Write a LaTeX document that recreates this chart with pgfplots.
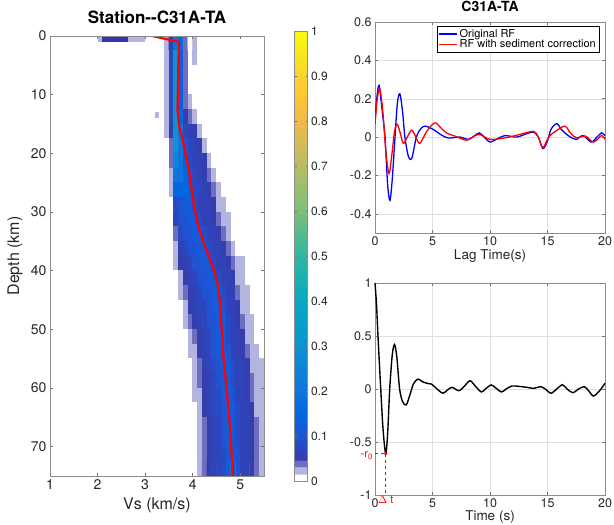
\documentclass[border=0pt]{standalone}
\usepackage{fontspec}
\setmainfont{TeX Gyre Heros}
\usepackage{pgfplots}
\pgfplotsset{compat=1.18}

\definecolor{lavL}{RGB}{180,180,224}
\definecolor{lavN}{RGB}{50,55,175}

\pgfplotsset{
  mlab/.style={
    scale only axis,
    axis line style={black!45, line width=0.5pt},
    tick style={black!55, line width=0.5pt},
    tick align=inside,
    major tick length=3pt,
    ticklabel style={font=\fontsize{12.5}{14}\selectfont, text=black!85},
    /pgf/number format/assume math mode=true,
    label style={font=\fontsize{13.5}{16}\selectfont, text=black!85},
  },
}

\begin{document}
\begin{tikzpicture}
\useasboundingbox (0,0) rectangle (614pt,525pt);

% ---- left: Vs density with depth
\begin{axis}[mlab, axis on top,
  at={(50pt,49pt)}, anchor=south west,
  width=214pt, height=440pt,
  xmin=1, xmax=5.5, ymin=0, ymax=75,
  y dir=reverse,
  xtick={1,2,3,4,5}, ytick={0,10,20,30,40,50,60,70},
  ticklabel style={font=\fontsize{14}{16}\selectfont},
  xlabel={Vs (km/s)}, ylabel={Depth (km)},
  label style={font=\fontsize{16}{18}\selectfont},
  xlabel style={at={([yshift=-29pt]axis description cs:0.5,0)}, anchor=center},
  ylabel style={at={([xshift=-35pt]axis description cs:0,0.5)}, anchor=center},
  title={\bfseries Station-{}-C31A-TA},
  title style={at={([yshift=13pt]axis description cs:0.5,1)}, anchor=center, font=\fontsize{17}{19}\selectfont},
  colormap={mparula}{
    rgb255(0pt)=(255,255,255); rgb255(15pt)=(255,255,255);
    rgb255(16pt)=(180,180,224); rgb255(31pt)=(180,180,224);
    rgb255(32pt)=(110,110,192); rgb255(46pt)=(110,110,192);
    rgb255(47pt)=(53,61,173); rgb255(100pt)=(32,83,212);
    rgb255(150pt)=(2,104,225); rgb255(200pt)=(13,117,220);
    rgb255(300pt)=(12,147,210); rgb255(400pt)=(7,169,194);
    rgb255(500pt)=(46,183,164); rgb255(600pt)=(124,191,123);
    rgb255(700pt)=(183,189,100); rgb255(800pt)=(241,185,74);
    rgb255(850pt)=(255,195,55); rgb255(900pt)=(250,211,42);
    rgb255(1000pt)=(249,251,14)},
  point meta min=0, point meta max=1,
  colorbar,
  colorbar style={
    scale only axis, width=13pt, height=450pt,
    at={(parent axis.east)}, anchor=west, xshift=22pt,
    ytick={0,0.1,0.2,0.3,0.4,0.5,0.6,0.7,0.8,0.9,1},
    yticklabel style={font=\fontsize{12}{14}\selectfont, /pgf/number format/fixed},
    /pgf/number format/assume math mode=true,
    axis line style={black!45}, tick style={black!55},
    major tick length=2pt, tick align=inside},
]
% density grid: Vs bins 3.2..5.5 (0.1 wide, 23 per row), depth rows 2.5 km
\addplot[matrix plot*, mesh/cols=23, point meta=explicit]
  table[row sep=\\, header=false,
        x expr={3.25+0.1*mod(\coordindex,23)},
        y expr={1.25+2.5*floor(\coordindex/23)}, meta index=0] {
0\\0\\0.02\\0.06\\0.2\\0.15\\0.04\\0\\0.02\\0\\0\\0\\0\\0\\0\\0\\0\\0\\0\\0\\0\\0\\0\\
0\\0\\0.02\\0.07\\0.3\\0.12\\0.04\\0\\0.02\\0\\0\\0\\0\\0\\0\\0\\0\\0\\0\\0\\0\\0\\0\\
0\\0\\0.02\\0.07\\0.3\\0.12\\0.04\\0\\0\\0\\0\\0\\0\\0\\0\\0\\0\\0\\0\\0\\0\\0\\0\\
0\\0\\0.02\\0.07\\0.3\\0.12\\0.04\\0\\0\\0\\0\\0\\0\\0\\0\\0\\0\\0\\0\\0\\0\\0\\0\\
0\\0\\0.02\\0.07\\0.3\\0.12\\0.04\\0.02\\0\\0\\0\\0\\0\\0\\0\\0\\0\\0\\0\\0\\0\\0\\0\\
0\\0\\0.02\\0.07\\0.3\\0.15\\0.05\\0.04\\0.02\\0\\0\\0\\0\\0\\0\\0\\0\\0\\0\\0\\0\\0\\0\\
0\\0\\0.02\\0.05\\0.3\\0.2\\0.07\\0.06\\0.05\\0.02\\0\\0\\0\\0\\0\\0\\0\\0\\0\\0\\0\\0\\0\\
0\\0\\0\\0.04\\0.3\\0.2\\0.1\\0.07\\0.06\\0.05\\0.02\\0\\0\\0\\0\\0\\0\\0\\0\\0\\0\\0\\0\\
0\\0\\0\\0.04\\0.25\\0.2\\0.12\\0.08\\0.06\\0.06\\0.05\\0.02\\0\\0\\0\\0\\0\\0\\0\\0\\0\\0\\0\\
0\\0\\0\\0.03\\0.2\\0.2\\0.15\\0.1\\0.07\\0.06\\0.05\\0.04\\0.02\\0\\0\\0\\0\\0\\0\\0\\0\\0\\0\\
0\\0\\0\\0.02\\0.15\\0.15\\0.15\\0.12\\0.08\\0.07\\0.06\\0.05\\0.04\\0.02\\0\\0\\0\\0\\0\\0\\0\\0\\0\\
0\\0\\0\\0\\0.08\\0.1\\0.12\\0.12\\0.08\\0.06\\0.06\\0.06\\0.05\\0.03\\0.02\\0\\0\\0\\0\\0\\0\\0\\0\\
0\\0\\0\\0\\0.06\\0.1\\0.1\\0.12\\0.12\\0.08\\0.06\\0.06\\0.05\\0.04\\0.02\\0.02\\0\\0\\0\\0\\0\\0\\0\\
0\\0\\0\\0\\0.04\\0.08\\0.1\\0.1\\0.12\\0.12\\0.08\\0.06\\0.06\\0.05\\0.04\\0.02\\0\\0\\0\\0\\0\\0\\0\\
0\\0\\0\\0\\0.03\\0.06\\0.07\\0.1\\0.1\\0.12\\0.12\\0.08\\0.06\\0.06\\0.05\\0.04\\0.02\\0\\0\\0\\0\\0\\0\\
0\\0\\0\\0\\0.02\\0.05\\0.06\\0.07\\0.1\\0.1\\0.12\\0.12\\0.08\\0.06\\0.06\\0.05\\0.04\\0.03\\0.02\\0\\0\\0\\0\\
0\\0\\0\\0\\0\\0.03\\0.05\\0.06\\0.07\\0.1\\0.1\\0.12\\0.12\\0.08\\0.06\\0.06\\0.05\\0.03\\0.02\\0\\0\\0\\0\\
0\\0\\0\\0\\0\\0.02\\0.04\\0.05\\0.06\\0.07\\0.1\\0.1\\0.12\\0.12\\0.08\\0.06\\0.06\\0.04\\0.02\\0.02\\0\\0\\0\\
0\\0\\0\\0\\0\\0\\0.03\\0.05\\0.06\\0.07\\0.07\\0.1\\0.12\\0.12\\0.1\\0.06\\0.06\\0.05\\0.03\\0.02\\0\\0\\0\\
0\\0\\0\\0\\0\\0\\0.02\\0.04\\0.05\\0.06\\0.07\\0.1\\0.1\\0.12\\0.12\\0.08\\0.06\\0.05\\0.04\\0.02\\0.02\\0\\0\\
0\\0\\0\\0\\0\\0\\0\\0.02\\0.04\\0.05\\0.06\\0.07\\0.1\\0.12\\0.12\\0.08\\0.06\\0.06\\0.05\\0.03\\0.02\\0\\0\\
0\\0\\0\\0\\0\\0\\0\\0.02\\0.03\\0.05\\0.06\\0.07\\0.1\\0.12\\0.12\\0.1\\0.06\\0.06\\0.05\\0.04\\0.03\\0.02\\0\\
0\\0\\0\\0\\0\\0\\0\\0\\0.02\\0.04\\0.06\\0.07\\0.08\\0.1\\0.12\\0.12\\0.08\\0.06\\0.06\\0.05\\0.03\\0.02\\0.02\\
0\\0\\0\\0\\0\\0\\0\\0\\0.02\\0.04\\0.05\\0.06\\0.07\\0.1\\0.12\\0.12\\0.08\\0.06\\0.06\\0.05\\0.04\\0.02\\0.02\\
0\\0\\0\\0\\0\\0\\0\\0\\0.02\\0.03\\0.05\\0.06\\0.07\\0.08\\0.12\\0.12\\0.1\\0.06\\0.06\\0.05\\0.04\\0.03\\0.02\\
0\\0\\0\\0\\0\\0\\0\\0\\0\\0.02\\0.05\\0.06\\0.07\\0.08\\0.1\\0.12\\0.12\\0.08\\0.06\\0.06\\0.05\\0.03\\0.02\\
0\\0\\0\\0\\0\\0\\0\\0\\0\\0.02\\0.04\\0.05\\0.06\\0.07\\0.1\\0.12\\0.12\\0.08\\0.06\\0.06\\0.05\\0.04\\0.02\\
0\\0\\0\\0\\0\\0\\0\\0\\0\\0.02\\0.04\\0.05\\0.06\\0.07\\0.1\\0.12\\0.12\\0.08\\0.06\\0.06\\0.05\\0.04\\0.02\\
0\\0\\0\\0\\0\\0\\0\\0\\0\\0.02\\0.04\\0.05\\0.06\\0.07\\0.08\\0.12\\0.12\\0.1\\0.06\\0.06\\0.05\\0.04\\0.02\\
0\\0\\0\\0\\0\\0\\0\\0\\0\\0.02\\0.04\\0.05\\0.06\\0.07\\0.08\\0.12\\0.12\\0.1\\0.06\\0.06\\0.05\\0.04\\0.02\\
};
% stray cells in the top layer and at 13 km
\addplot[draw=none, fill=lavL] coordinates {(2.0,0) (2.1,0) (2.1,1) (2.0,1)} -- cycle;
\addplot[draw=none, fill=lavN] coordinates {(2.1,0) (2.65,0) (2.65,1) (2.1,1)} -- cycle;
\addplot[draw=none, fill=lavL] coordinates {(2.65,0) (3.0,0) (3.0,1) (2.65,1)} -- cycle;
\addplot[draw=none, fill=lavL] coordinates {(3.2,13) (3.3,13) (3.3,14) (3.2,14)} -- cycle;
% mean model
\addplot[red, line width=2.2pt] coordinates {
  (3.15,0) (3.71,1) (3.70,5) (3.68,12.6) (3.72,15.5) (3.79,17.7)
  (3.92,22.8) (4.03,29) (4.12,32.5) (4.22,35) (4.34,37.6) (4.45,40)
  (4.53,42.5) (4.57,45) (4.61,50) (4.65,55) (4.72,60.8) (4.77,65)
  (4.81,70) (4.85,75)};
\end{axis}

% ---- upper right: receiver functions
\begin{axis}[mlab,
  at={(375pt,292pt)}, anchor=south west,
  width=230pt, height=211pt,
  xmin=0, xmax=20, ymin=-0.5, ymax=0.6,
  xtick={0,5,10,15,20}, ytick={-0.4,-0.2,0,0.2,0.4,0.6},
  grid=major, grid style={black!12},
  xlabel={Lag Time(s)},
  xlabel style={at={([yshift=-23pt]axis description cs:0.5,0)}, anchor=center},
  title={\bfseries C31A-TA},
  title style={at={([yshift=10pt]axis description cs:0.5,1)}, anchor=center, font=\fontsize{14}{16}\selectfont},
  legend style={at={(axis description cs:1,1)}, anchor=north east, xshift=-6pt, yshift=-4pt,
    font=\fontsize{11}{13}\selectfont, draw=black, line width=0.5pt,
    inner xsep=1pt, inner ysep=1pt, row sep=-3pt},
  legend cell align=left,
  legend image code/.code={\draw[#1, line width=1.3pt] (0pt,0pt) -- (18pt,0pt);},
]
\addplot[blue, line width=1.3pt, smooth] coordinates {
  (0,0.07) (0.15,0.2) (0.35,0.27) (0.6,0.15) (0.87,0) (1.1,-0.25) (1.3,-0.33)
  (1.5,-0.22) (1.74,0) (1.95,0.18) (2.17,0.225) (2.4,0.13) (2.6,0) (2.9,-0.1)
  (3.2,-0.11) (3.6,0) (4.0,0.045) (4.35,0.057) (4.8,0.048) (5.2,0.035) (5.8,0.01)
  (6.4,-0.005) (7.4,0) (8.1,-0.012) (8.6,0.005) (9.07,0.022) (9.5,0) (10,-0.026)
  (10.6,-0.01) (11.3,0.008) (12.3,0) (13.2,0.018) (13.8,0.026) (14.2,0) (14.6,-0.06)
  (15.0,-0.02) (15.3,0.04) (15.8,0.07) (16.2,0.04) (16.5,0.022) (17.0,0) (17.5,-0.012)
  (18.1,0.008) (18.8,-0.026) (19.3,0) (19.7,0.022) (20,0.008)};
\addlegendentry{Original RF}
\addplot[red, line width=1.3pt, smooth] coordinates {
  (0,0.07) (0.2,0.2) (0.43,0.25) (0.7,0.12) (0.95,-0.08) (1.22,-0.19) (1.45,-0.1)
  (1.7,0.03) (1.94,0.066) (2.2,0.02) (2.46,-0.033) (2.8,0) (3.2,0.036) (3.55,0)
  (3.9,-0.033) (4.5,0.03) (5.2,0.074) (5.7,0.05) (6.2,0.022) (7.1,0.002) (8.0,-0.016)
  (9.0,0.014) (10.0,-0.012) (11.4,-0.003) (12.6,0.014) (13.8,0.03) (14.2,0) (14.6,-0.055)
  (15.1,0) (15.6,0.026) (16.5,0.057) (17.0,0.02) (17.5,-0.003) (18.3,0.005) (19.0,-0.026)
  (19.7,0.008) (20,-0.012)};
\addlegendentry{RF with sediment correction}
\end{axis}

% ---- lower right: autocorrelation
\begin{axis}[mlab,
  at={(375pt,30pt)}, anchor=south west,
  width=230pt, height=212pt,
  xmin=0, xmax=20, ymin=-1, ymax=1,
  xtick={0,5,10,15,20}, ytick={-1,-0.5,0,0.5,1},
  grid=major, grid style={black!12},
  xlabel={Time (s)},
  xlabel style={at={([yshift=-22pt]axis description cs:0.5,0)}, anchor=center},
  clip=false,
]
\addplot[black, line width=1.4pt, smooth] coordinates {
  (0,1) (0.13,0.8) (0.26,0.5) (0.5,0) (0.7,-0.38) (0.93,-0.61) (1.1,-0.42) (1.28,0)
  (1.5,0.32) (1.7,0.42) (1.9,0.3) (2.14,0) (2.4,-0.12) (2.72,-0.15) (3.05,-0.05)
  (3.35,0.05) (3.74,0.094) (4.1,0.07) (4.55,0.053) (4.9,0.047) (5.4,0) (5.9,-0.04)
  (6.3,-0.01) (6.7,0.016) (7.3,-0.016) (7.8,0.03) (8.26,0.078) (8.7,0.03) (9.25,-0.028)
  (9.6,0) (10.1,0.038) (10.5,0.01) (11,-0.028) (11.4,0) (11.9,0.028) (12.5,0.025)
  (13.2,0.016) (13.8,0.006) (14.4,0.022) (14.8,0) (15.3,-0.04) (15.8,0) (16.3,0.04)
  (16.7,0) (17.2,-0.035) (17.7,0) (18.2,0.022) (18.6,-0.02) (19.0,-0.066) (19.5,-0.02)
  (20,0.053)};
\addplot[red, dashed, line width=1.2pt] coordinates {(0,-0.61) (0.93,-0.61)};
\addplot[red, dashed, line width=1.2pt] coordinates {(0.93,-0.61) (0.93,-1)};
\addplot[red, only marks, mark=*, mark size=1.5pt] coordinates {(0.93,-0.61)};
\node[text=red, anchor=north east, font=\fontsize{11}{13}\selectfont, inner sep=0pt]
  at ([xshift=-2pt,yshift=2pt]axis cs:0,-0.61) {-r\textsubscript{0}};
\node[text=red, anchor=north, font=\fontsize{11}{13}\selectfont, inner sep=0pt]
  at ([xshift=5pt,yshift=-1pt]axis cs:0.5,-1) {$\Delta$\hspace{3pt}t};
\end{axis}
\end{tikzpicture}
\end{document}
